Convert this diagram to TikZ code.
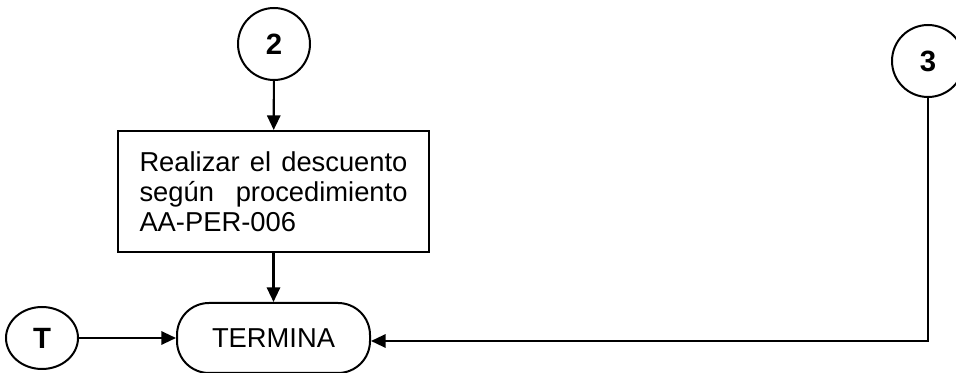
\documentclass[tikz,border=0pt]{standalone}
\usepackage{fontspec}
\setmainfont{Liberation Sans}
\usetikzlibrary{arrows.meta,shapes.geometric}
\begin{document}
\begin{tikzpicture}[x=0.75pt,y=-0.75pt,
  every node/.style={line width=1.5pt},
  conn/.style={draw,circle,minimum size=54pt,inner sep=0pt,font=\fontsize{22}{22}\selectfont\bfseries},
  procbox/.style={draw,rectangle,minimum width=233.25pt,minimum height=90.75pt,inner sep=0pt,font=\fontsize{20.5}{22.5}\selectfont},
  termbox/.style={draw,rectangle,rounded corners=24pt,minimum width=144.75pt,minimum height=52.5pt,inner sep=0pt,font=\fontsize{20.5}{20}\selectfont},
  arr/.style={line width=1.6pt,-{Triangle[length=11pt,width=10pt]}},
  ln/.style={line width=1.6pt}]
\useasboundingbox (0,0) rectangle (956,373);
\node[conn] (c2) at (274,44) {2};
\node[procbox] (box) at (273.5,191.5) {\parbox{201pt}{Realizar el descuento\linebreak según procedimiento\linebreak AA-PER-006}};
\node[termbox] (term) at (273.5,338) {TERMINA};
\node[draw,ellipse,minimum width=54pt,minimum height=46.5pt,inner sep=0pt,font=\fontsize{22}{22}\selectfont\bfseries] (t) at (42,338) {T};
\node[conn] (c3) at (928,61) {3};
\draw[arr] (c2) -- (box);
\draw[arr] (box) -- (term);
\draw[arr] (t) -- (term);
\draw[arr] (c3.south) |- ([yshift=-2.25pt]term.east);
\end{tikzpicture}
\end{document}
